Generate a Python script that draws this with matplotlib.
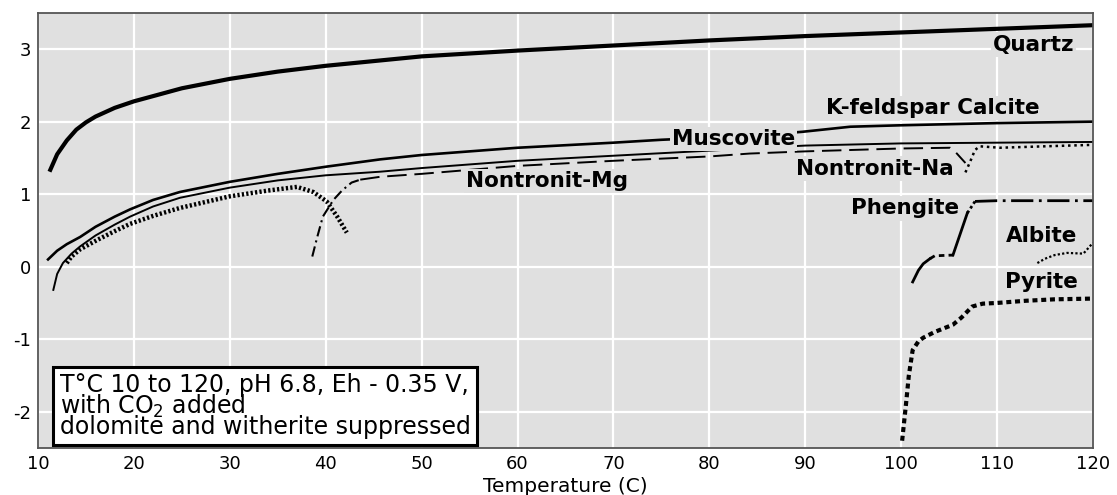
import numpy as np
import matplotlib
matplotlib.use("Agg")
import matplotlib.pyplot as plt

plt.rcParams['font.family'] = ['DejaVu Sans']
plt.rcParams['axes.unicode_minus'] = False

# Temperature (C) vs. value
quartz_x = [11.2, 12, 13, 14, 15, 16, 18, 20, 25, 30, 35, 40, 50, 60, 70, 80, 90, 100, 110, 120]
quartz_y = [1.31, 1.55, 1.74, 1.89, 1.99, 2.07, 2.19, 2.28, 2.46, 2.59, 2.69, 2.77, 2.90, 2.98, 3.05, 3.12, 3.18, 3.23, 3.28, 3.33]

# Muscovite / K-feldspar Calcite (upper solid)
musc_x = [11.05, 12, 13, 14.4, 16, 18, 19.6, 22, 24.8, 30, 35, 40.1, 45.7, 50, 60, 70, 75, 80, 85, 89.7, 94.7, 100, 110, 120]
musc_y = [0.10, 0.22, 0.31, 0.41, 0.55, 0.69, 0.79, 0.92, 1.03, 1.17, 1.28, 1.38, 1.48, 1.54, 1.64, 1.71, 1.75, 1.78, 1.81, 1.86, 1.93, 1.95, 1.98, 2.00]

# lower solid line
lower_x = [11.6, 12.0, 12.6, 13.5, 14.4, 16, 18, 19.6, 22, 24.8, 30, 35, 40, 45.7, 50, 60, 70, 80, 84.2, 90, 100, 110, 120]
lower_y = [-0.32, -0.10, 0.05, 0.18, 0.28, 0.43, 0.58, 0.69, 0.83, 0.95, 1.09, 1.19, 1.26, 1.31, 1.36, 1.46, 1.53, 1.60, 1.63, 1.67, 1.70, 1.71, 1.72]

# thick dotted curve peaking near 37 C
dot_x = [13.0, 13.5, 14.4, 16.2, 18, 19.6, 22, 24.8, 30, 34, 37, 38.7, 40.1, 41.2, 42.2]
dot_y = [0.05, 0.14, 0.24, 0.37, 0.49, 0.59, 0.70, 0.81, 0.97, 1.05, 1.10, 1.03, 0.90, 0.69, 0.47]

# Nontronit-Mg
nmg_start_x = [38.6, 39.1, 39.7, 40.8, 41.7, 42.7, 43.6]
nmg_start_y = [0.14, 0.40, 0.69, 0.92, 1.05, 1.16, 1.20]
nmg_x = [43.6, 45.7, 50, 60, 70, 80, 84.2, 90, 100, 105.1, 105.6, 106.7]
nmg_y = [1.20, 1.24, 1.28, 1.39, 1.46, 1.52, 1.56, 1.59, 1.63, 1.64, 1.59, 1.43]

# Nontronit-Na
nna_x = [106.7, 107.2, 107.7, 108.2, 110.3, 115, 120]
nna_y = [1.30, 1.45, 1.61, 1.66, 1.64, 1.66, 1.68]

# Phengite
phen_x = [101.2, 101.8, 102.3, 103.0, 103.5, 105.4, 106.9, 107.7, 110, 120]
phen_y = [-0.21, -0.05, 0.04, 0.11, 0.15, 0.16, 0.74, 0.90, 0.91, 0.91]

# Albite
alb_x = [114.2, 115, 116, 117.3, 119, 120]
alb_y = [0.05, 0.11, 0.16, 0.19, 0.18, 0.33]

# Pyrite
pyr_x = [100.1, 100.5, 100.8, 101.2, 101.8, 102.3, 103.5, 105.4, 106.3, 107.4, 108.5, 110, 113, 116, 120]
pyr_y = [-2.40, -1.9, -1.5, -1.15, -1.03, -0.98, -0.90, -0.80, -0.70, -0.55, -0.51, -0.50, -0.47, -0.45, -0.44]

labels = ["Quartz", "K-feldspar Calcite", "Muscovite", "Nontronit-Mg",
          "Nontronit-Na", "Phengite", "Albite", "Pyrite"]
label_x = [113.8, 103.3, 82.5, 63.1, 97.3, 100.4, 114.6, 114.6]
label_y = [2.98, 2.11, 1.68, 1.10, 1.27, 0.72, 0.345, -0.29]

xticks = np.arange(10, 121, 10)
yticks = [-2, -1, 0, 1, 2, 3]

bg = '#e0e0e0'

fig = plt.figure(figsize=(11.17, 4.95), dpi=100)
ax = fig.add_axes([0.034, 0.095, 0.9445, 0.879])
ax.set_facecolor(bg)

ax.plot(quartz_x, quartz_y, color='black', lw=3.0, solid_capstyle='butt')
ax.plot(musc_x, musc_y, color='black', lw=1.9)
ax.plot(lower_x, lower_y, color='black', lw=1.4)
ax.plot(dot_x, dot_y, color='black', lw=3.2, dashes=(0.5, 0.5))

ax.plot(nmg_start_x, nmg_start_y, color='black', lw=1.5, dashes=(5, 2, 1, 2))
ax.plot(nmg_x, nmg_y, color='black', lw=1.4, dashes=(10, 4))
ax.plot(nna_x, nna_y, color='black', lw=1.8, dashes=(1, 1.5))

# Phengite changes style along its length
ax.plot(phen_x[:4], phen_y[:4], color='black', lw=2.0)
ax.plot(phen_x[3:6], phen_y[3:6], color='black', lw=2.0, dashes=(2, 1.5))
ax.plot(phen_x[5:7], phen_y[5:7], color='black', lw=2.0)
ax.plot(phen_x[6:8], phen_y[6:8], color='black', lw=2.0, dashes=(1, 1))
ax.plot(phen_x[7:], phen_y[7:], color='black', lw=2.0, dashes=(8, 2, 1, 2))

ax.plot(alb_x, alb_y, color='black', lw=1.6, dashes=(1, 1))
ax.plot(pyr_x, pyr_y, color='black', lw=3.0, dashes=(1.2, 0.9))

for t, lx, ly in zip(labels, label_x, label_y):
    ax.text(lx, ly, t, ha='center', va='baseline', fontsize=15.5, fontweight='bold',
            bbox=dict(boxstyle='square,pad=0.1', fc=bg, ec='none'), zorder=5)

ax.text(0.0205, 0.172,
        "T\u00b0C 10 to 120, pH 6.8, Eh - 0.35 V,\nwith CO$_2$ added\ndolomite and witherite suppressed",
        transform=ax.transAxes, ha='left', va='top', fontsize=17, linespacing=0.77,
        bbox=dict(boxstyle='square,pad=0.26', fc='white', ec='black', lw=2.2), zorder=6)

ax.set_xlim(10, 120)
ax.set_ylim(-2.5, 3.5)
ax.set_xticks(xticks)
ax.set_yticks(yticks)
ax.grid(True, color='white', lw=1.6)
ax.set_axisbelow(True)
ax.tick_params(length=0, labelsize=13, pad=5)
for s in ax.spines.values():
    s.set_color('#555555')
    s.set_linewidth(1.3)
ax.set_xlabel("Temperature (C)", fontsize=14.5, labelpad=3)

fig.savefig("out.png", dpi=100)
